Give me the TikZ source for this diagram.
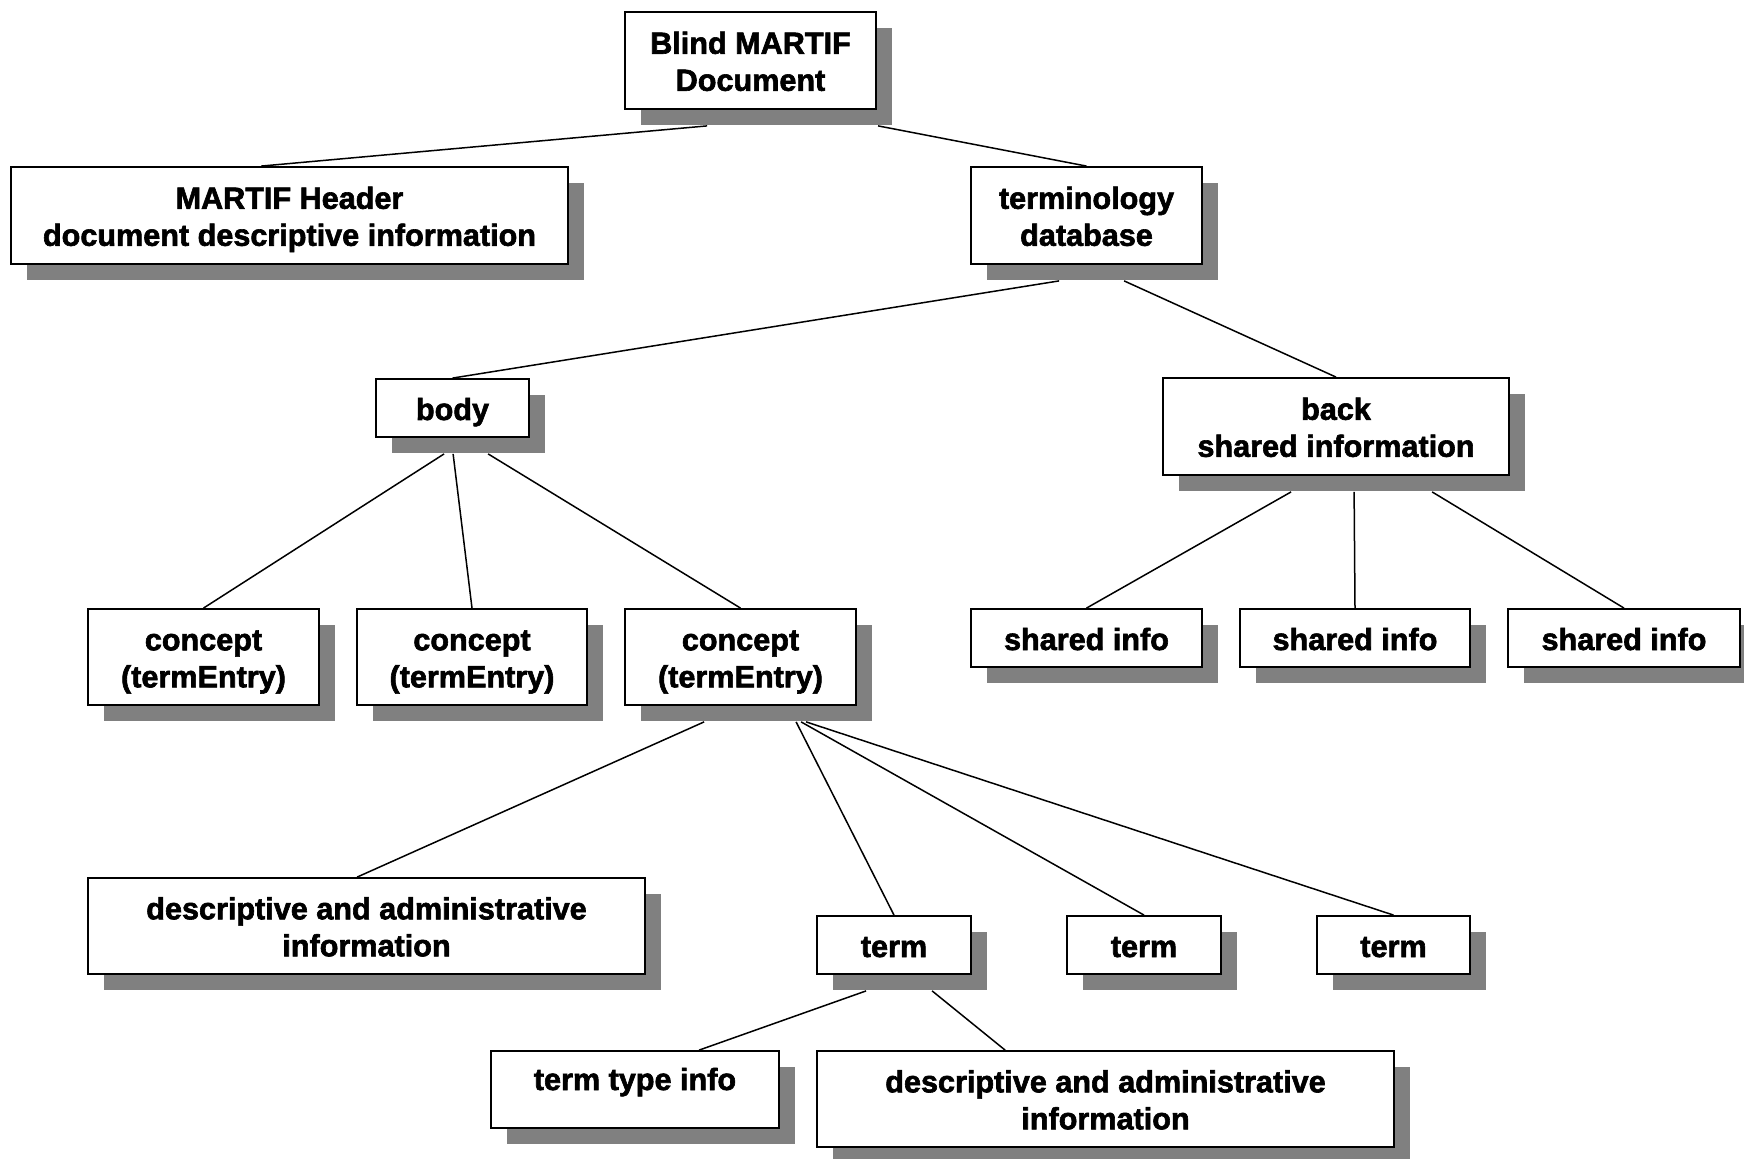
\documentclass[tikz,border=0pt]{standalone}
\usepackage{fontspec}
\setmainfont{Liberation Sans}[BoldFeatures={FakeBold=2}]
\usetikzlibrary{shadows,calc}
\newcommand{\twol}[2]{\raisebox{-2.2pt}[\height][\depth]{\begin{tabular}{@{}c@{}}#1\\#2\end{tabular}}}
\tikzset{
  box/.style={draw=black, line width=0.9pt, fill=white, inner sep=0pt,
    font=\fontsize{15.3pt}{18.5pt}\selectfont\bfseries,
    execute at begin node={\rule{0pt}{15.5pt}},
    execute at end node={\rule[-3.5pt]{0pt}{3.5pt}},
    general shadow={fill=black!50, shadow xshift=8pt, shadow yshift=-8pt}},
  conn/.style={line width=0.75pt, black},
}
\begin{document}
\begin{tikzpicture}[x=0.5pt,y=-0.5pt]
\useasboundingbox (0,0) rectangle (1744,1159);
\fill[white] (0,0) rectangle (1744,1159);
% boxes
\node[box, minimum width=125.5pt, minimum height=48.5pt] (blind) at (750.5,60.5) {\twol{Blind MARTIF}{Document}};
\node[box, minimum width=278.5pt, minimum height=48.5pt] (header) at (289.5,215.5) {\twol{MARTIF Header}{document descriptive information}};
\node[box, minimum width=115.5pt, minimum height=48.5pt] (termdb) at (1086.5,215.5) {\twol{terminology}{database}};
\node[box, minimum width=76.5pt, minimum height=29pt] (body) at (452.5,408) {body};
\node[box, minimum width=173pt, minimum height=48.5pt] (back) at (1336,426.5) {\twol{back}{shared information}};
\node[box, minimum width=115.5pt, minimum height=48pt] (c1) at (203.5,657) {\twol{concept}{(termEntry)}};
\node[box, minimum width=115pt, minimum height=48pt] (c2) at (472,657) {\twol{concept}{(termEntry)}};
\node[box, minimum width=115.5pt, minimum height=48pt] (c3) at (740.5,657) {\twol{concept}{(termEntry)}};
\node[box, minimum width=115.5pt, minimum height=29pt] (s1) at (1086.5,638) {shared info};
\node[box, minimum width=115pt, minimum height=29pt] (s2) at (1355,638) {shared info};
\node[box, minimum width=116pt, minimum height=29pt] (s3) at (1624,638) {shared info};
\node[box, minimum width=278.5pt, minimum height=48pt] (d1) at (366.5,926) {\twol{descriptive and administrative}{information}};
\node[box, minimum width=77pt, minimum height=29pt] (t1) at (894,945) {term};
\node[box, minimum width=77pt, minimum height=29pt] (t2) at (1144,945) {term};
\node[box, minimum width=76.5pt, minimum height=29pt] (t3) at (1393.5,945) {term};
\node[box, minimum width=144pt, text height=19.5pt, text depth=19pt, anchor=base] (tti) at (635,1090) {term type info};
\node[box, minimum width=288.5pt, minimum height=48pt] (d2) at (1105.5,1099) {\twol{descriptive and administrative}{information}};
% connectors
\draw[conn] ($(blind.south west)+(83,16)$) -- ($(header.north west)+(251,0)$);
\draw[conn] ($(blind.south west)+(254,16)$) -- (termdb.north);
\draw[conn] ($(termdb.south west)+(89,16)$) -- (body.north);
\draw[conn] ($(termdb.south west)+(154,16)$) -- (back.north);
\draw[conn] ($(body.south west)+(69,16)$) -- (c1.north);
\draw[conn] ($(body.south west)+(78,16)$) -- (c2.north);
\draw[conn] ($(body.south west)+(113,16)$) -- (c3.north);
\draw[conn] ($(back.south west)+(129,16)$) -- (s1.north);
\draw[conn] ($(back.south west)+(192,16)$) -- (s2.north);
\draw[conn] ($(back.south west)+(270,16)$) -- (s3.north);
\draw[conn] ($(c3.south west)+(80,16)$) -- ($(d1.north west)+(270,0)$);
\draw[conn] ($(c3.south west)+(172,16)$) -- (t1.north);
\draw[conn] ($(c3.south west)+(177,16)$) -- (t2.north);
\draw[conn] ($(c3.south west)+(182,16)$) -- (t3.north);
\draw[conn] ($(t1.south west)+(50,16)$) -- ($(tti.north west)+(209,0)$);
\draw[conn] ($(t1.south west)+(116,16)$) -- ($(d2.north west)+(189,0)$);
\end{tikzpicture}
\end{document}
